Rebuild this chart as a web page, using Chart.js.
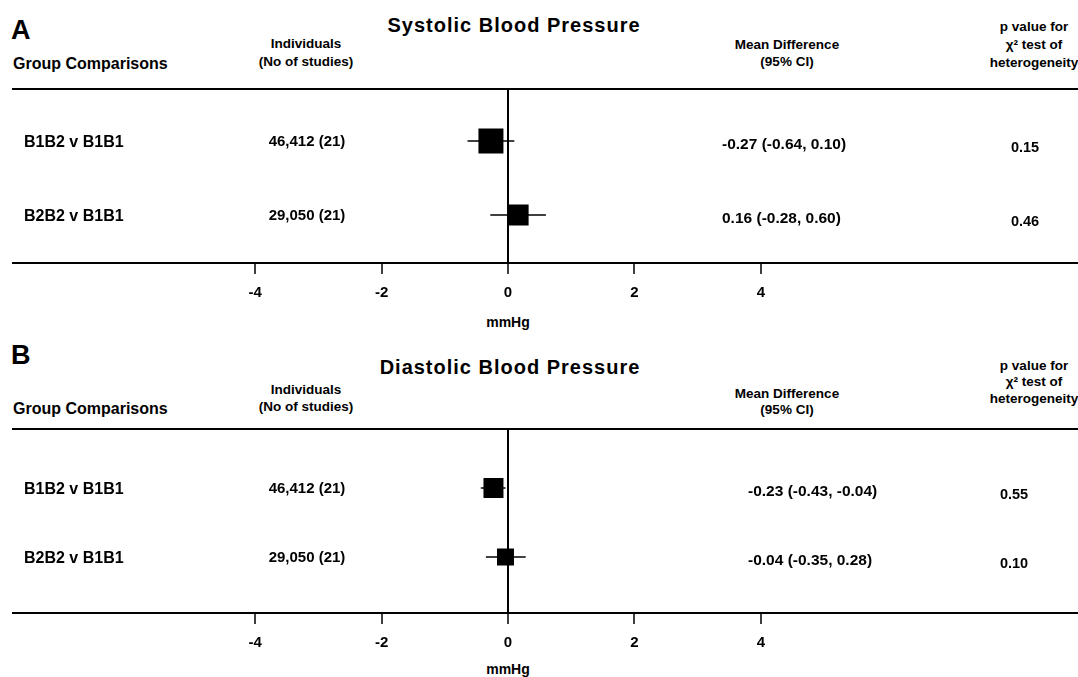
<html>
<head>
<style>
  body { margin: 0; background: #fff; width: 1078px; height: 677px; overflow: hidden; position: relative;
         font-family: "Liberation Sans", Arial, sans-serif; font-weight: bold; color: #000; }
  .t { position: absolute; white-space: nowrap; }
  .c { transform: translateX(-50%); text-align: center; }
  canvas { position: absolute; left: 0; }
</style>
</head>
<body>
<canvas id="chartA" width="1078"></canvas>
<canvas id="chartB" width="1078"></canvas>

<script src="https://cdn.jsdelivr.net/npm/chart.js"></script>
<script>
  // data
  const groups = ['B1B2 v B1B1', 'B2B2 v B1B1'];
  const individuals = ['46,412 (21)', '29,050 (21)'];
  const sysMean = [-0.27, 0.16];
  const sysLow = [-0.64, -0.28];
  const sysHigh = [0.10, 0.60];
  const sysP = ['0.15', '0.46'];
  const diaMean = [-0.23, -0.04];
  const diaLow = [-0.43, -0.35];
  const diaHigh = [-0.04, 0.28];
  const diaP = ['0.55', '0.10'];
  const xTicks = [-4, -2, 0, 2, 4];

  // layout (pixels)
  const zeroX = 508, unitPx = 63.2, plotLeft = 13;

  function addText(str, x, y, size, center, extra) {
    const d = document.createElement('div');
    d.className = 't' + (center ? ' c' : '');
    d.textContent = str;
    d.style.left = x + 'px';
    d.style.fontSize = size + 'px';
    d.style.lineHeight = Math.round(size * 1.2) + 'px';
    d.style.top = (y - Math.round(size * 1.2) / 2) + 'px';
    if (extra) Object.assign(d.style, extra);
    document.body.appendChild(d);
  }

  function fmt(m, lo, hi) {
    return m.toFixed(2) + ' (' + lo.toFixed(2) + ', ' + hi.toFixed(2) + ')';
  }

  function panel(id, p) {
    // header
    addText(p.letter, 11, p.letterY, 27, false);
    addText(p.title, p.titleX, p.titleY, 20, true, { letterSpacing: '1px' });
    addText('Group Comparisons', 13, p.groupY, 16, false);
    addText('Individuals', 306, p.indY[0], 13.5, true);
    addText('(No of studies)', 306, p.indY[1], 13.5, true);
    addText('Mean Difference', 787, p.mdY[0], 13.5, true);
    addText('(95% CI)', 787, p.mdY[1], 13.5, true);
    addText('p value for', 1034, p.pY[0], 13.5, true);
    addText('\u03c7\u00b2 test of', 1034, p.pY[1], 13.5, true);
    addText('heterogeneity', 1034, p.pY[2], 13.5, true);

    // rows
    groups.forEach((g, i) => {
      const y = p.rows[i];
      addText(g, 24, y, 16, false);
      addText(individuals[i], 307, y, 15, true);
      addText(fmt(p.mean[i], p.low[i], p.high[i]), p.mdX, y + 2, 15.5, false);
      addText(p.pv[i], p.pX, y + 6, 14.5, true);
    });

    // axis unit, centred under the zero line
    addText('mmHg', zeroX, p.unitY, 14, true);

    const canvas = document.getElementById(id);
    const top = p.line - 4;
    canvas.style.top = top + 'px';
    canvas.height = p.bottom - top;

    const h = p.axis - p.line;
    const step = p.rows[1] - p.rows[0];
    const yMin = 1 - (p.rows[0] - p.line) / step;
    const yMax = yMin + h / step;
    const xMin = -(zeroX - plotLeft) / unitPx;
    const xMax = xMin + (1078 - plotLeft) / unitPx;

    const ciSets = groups.map((g, i) => ({
      type: 'line',
      data: [{ x: p.low[i], y: i + 1 }, { x: p.high[i], y: i + 1 }],
      borderColor: '#000',
      borderWidth: 1.5,
      pointRadius: 0
    }));

    new Chart(canvas, {
      type: 'scatter',
      data: {
        datasets: [{
          data: p.mean.map((m, i) => ({ x: m, y: i + 1 })),
          pointStyle: 'rect',
          pointRadius: p.box.map(s => s / Math.SQRT2),
          backgroundColor: '#000',
          borderWidth: 0
        }].concat(ciSets)
      },
      options: {
        responsive: false,
        animation: false,
        layout: { autoPadding: false, padding: { left: plotLeft, right: 0, top: 4, bottom: 0 } },
        plugins: { legend: { display: false }, tooltip: { enabled: false } },
        scales: {
          x: {
            type: 'linear', position: 'bottom', min: xMin, max: xMax,
            afterBuildTicks: s => { s.ticks = xTicks.map(v => ({ value: v })); },
            afterFit: s => { s.height = p.bottom - p.axis; },
            grid: {
              color: c => (c.tick && c.tick.value === 0 ? '#000' : 'rgba(0,0,0,0)'),
              lineWidth: 2, tickColor: '#000', tickWidth: 1.5, tickLength: 11
            },
            border: { display: true, color: '#000', width: 2 },
            ticks: { color: '#000', padding: 10, font: { family: 'Liberation Sans', size: 15, weight: 'bold' } }
          },
          x2: {
            type: 'linear', position: 'top', min: xMin, max: xMax,
            afterFit: s => { s.height = 0; },
            grid: { display: true, drawOnChartArea: false, drawTicks: false, color: 'rgba(0,0,0,0)' },
            border: { display: true, color: '#000', width: 2 },
            ticks: { display: false }
          },
          y: { type: 'linear', display: false, reverse: true, min: yMin, max: yMax }
        }
      }
    });
  }

  panel('chartA', {
    letter: 'A', letterY: 30, title: 'Systolic Blood Pressure', titleX: 514, titleY: 25,
    groupY: 63, indY: [44, 62], mdY: [45, 62], pY: [27, 45, 63],
    line: 89, rows: [141, 215], axis: 263, bottom: 310, unitY: 322,
    mean: sysMean, low: sysLow, high: sysHigh, pv: sysP,
    mdX: 722, pX: 1025, box: [25, 21]
  });

  panel('chartB', {
    letter: 'B', letterY: 355, title: 'Diastolic Blood Pressure', titleX: 510, titleY: 367,
    groupY: 408, indY: [390, 407], mdY: [394, 410], pY: [366, 382, 399],
    line: 429, rows: [488, 557], axis: 613, bottom: 660, unitY: 669,
    mean: diaMean, low: diaLow, high: diaHigh, pv: diaP,
    mdX: 748, pX: 1014, box: [20, 17]
  });
</script>
</body>
</html>
